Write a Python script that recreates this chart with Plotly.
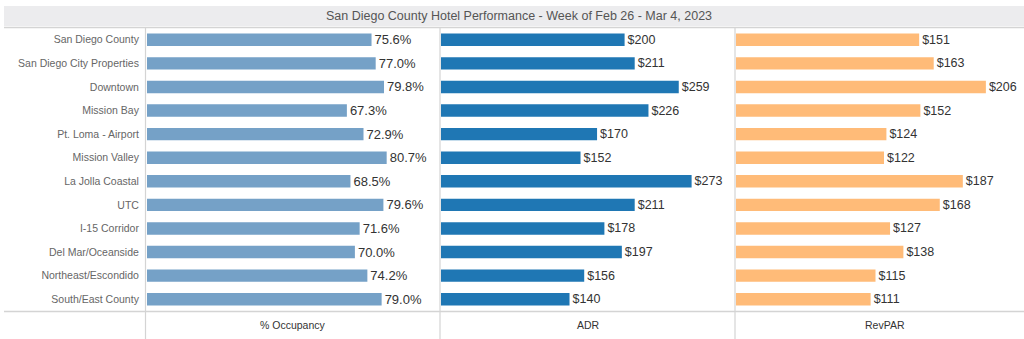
import plotly.graph_objects as go

categories = ["San Diego County", "San Diego City Properties", "Downtown", "Mission Bay",
              "Pt. Loma - Airport", "Mission Valley", "La Jolla Coastal", "UTC",
              "I-15 Corridor", "Del Mar/Oceanside", "Northeast/Escondido", "South/East County"]
occupancy = [75.6, 77.0, 79.8, 67.3, 72.9, 80.7, 68.5, 79.6, 71.6, 70.0, 74.2, 79.0]
adr = [200, 211, 259, 226, 170, 152, 273, 211, 178, 197, 156, 140]
revpar = [151, 163, 206, 152, 124, 122, 187, 168, 127, 138, 115, 111]
panel_titles = ["% Occupancy", "ADR", "RevPAR"]
title = "San Diego County Hotel Performance - Week of Feb 26 - Mar 4, 2023"

W, H = 1024, 339
FONT = "Liberation Sans, Arial, sans-serif"

def px(x):
    return x / W

def py(y):
    return 1 - y / H

def bar(x, axis, color, tmpl, size):
    return go.Bar(y=categories, x=x, orientation="h", xaxis=axis, yaxis="y",
                  marker=dict(color=color, line=dict(width=0)), width=0.53,
                  texttemplate=tmpl, textposition="outside", cliponaxis=False,
                  constraintext="none",
                  textfont=dict(size=size, color="#333333", family=FONT))

fig = go.Figure()
fig.add_trace(bar(occupancy, "x", "#75a1c7", "%{x:.1f}%", 13))
fig.add_trace(bar(adr, "x2", "#1f77b4", "$%{x:.0f}", 12.5))
fig.add_trace(bar(revpar, "x3", "#ffbb78", "$%{x:.0f}", 12.5))

axis_common = dict(showgrid=False, zeroline=False, showticklabels=False, showline=False,
                   fixedrange=True)
p1 = (147, 440)
p2 = (441, 735)
p3 = (736, 1024)

fig.update_layout(
    width=W, height=H,
    margin=dict(l=0, r=0, t=0, b=0),
    paper_bgcolor="white", plot_bgcolor="white",
    showlegend=False,
    font=dict(family=FONT, color="#555555"),
    xaxis=dict(domain=[px(p1[0]), px(p1[1])], range=[0, 293 / 2.97], anchor="y", **axis_common),
    xaxis2=dict(domain=[px(p2[0]), px(p2[1])], range=[0, 294 / 0.918], anchor="y", **axis_common),
    xaxis3=dict(domain=[px(p3[0]), px(p3[1])], range=[0, 288 / 1.213], anchor="y", **axis_common),
    yaxis=dict(domain=[py(311), py(28)], autorange="reversed", showgrid=False, zeroline=False,
               showline=False, ticks="outside", ticklen=5, tickcolor="rgba(0,0,0,0)",
               tickfont=dict(size=10.5, color="#666666", family=FONT), anchor="x",
               fixedrange=True),
    bargap=0.47,
)

line_col = "#d4d4d4"
shapes = [
    dict(type="rect", xref="paper", yref="paper", x0=px(4), x1=1, y0=py(26), y1=py(6),
         fillcolor="#ececee", line=dict(width=0), layer="below"),
    dict(type="line", xref="paper", yref="paper", x0=px(4), x1=1, y0=py(27.5), y1=py(27.5),
         line=dict(color=line_col, width=1.5)),
    dict(type="line", xref="paper", yref="paper", x0=px(4), x1=1, y0=py(311.5), y1=py(311.5),
         line=dict(color=line_col, width=1.5)),
]
for xv in [145.5, 440, 735]:
    shapes.append(dict(type="line", xref="paper", yref="paper", x0=px(xv), x1=px(xv),
                       y0=0, y1=py(28), line=dict(color=line_col, width=1.2)))
fig.update_layout(shapes=shapes)

annotations = [
    dict(text=title, xref="paper", yref="paper", x=px(519), y=py(15.5), showarrow=False,
         xanchor="center", yanchor="middle", font=dict(size=12.5, color="#555555", family=FONT)),
]
centers = [293, 588, 885]
for t, cx in zip(panel_titles, centers):
    annotations.append(dict(text=t, xref="paper", yref="paper", x=px(cx), y=py(325),
                            showarrow=False, xanchor="center", yanchor="middle",
                            font=dict(size=10.5, color="#333333", family=FONT)))
fig.update_layout(annotations=annotations)

fig.write_html("out.html")
